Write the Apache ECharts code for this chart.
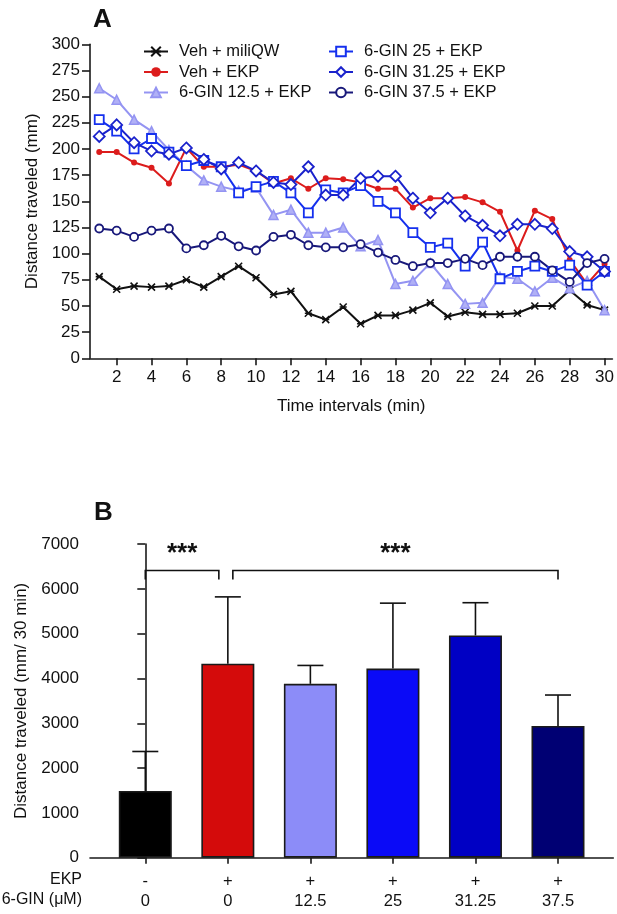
<!DOCTYPE html>
<html>
<head>
<meta charset="utf-8">
<script src="https://cdn.jsdelivr.net/npm/echarts@6/dist/echarts.min.js"></script>
<style>
  html, body { margin: 0; padding: 0; background: #fff; }
  #main { width: 617px; height: 914px; }
</style>
</head>
<body>
<div id="main"></div>
<script>
// ---- panel A: distance per 1-min interval ----
var minutes = [1,2,3,4,5,6,7,8,9,10,11,12,13,14,15,16,17,18,19,20,21,22,23,24,25,26,27,28,29,30];
var xTicksA = [2,4,6,8,10,12,14,16,18,20,22,24,26,28,30];

var vehMiliQW = [78,66,69,68,69,75,68,78,88,77,61,64,43,37,49,33,41,41,46,53,40,44,42,42,43,50,50,65,51,46];
var vehEKP    = [197,197,187,182,167,201,183,183,185,179,167,172,162,172,171,168,162,162,144,153,153,154,149,140,103,141,133,94,71,90];
var gin12_5   = [258,247,228,217,199,184,170,164,160,163,137,142,120,120,125,107,113,71,74,91,71,52,53,78,76,64,77,67,74,46];
var gin25     = [228,217,200,210,197,184,189,183,158,164,169,158,139,161,158,165,150,139,120,106,110,88,111,76,83,88,83,89,70,83];
var gin31_25  = [212,223,206,198,195,201,190,181,187,179,168,166,183,156,156,172,174,174,153,139,153,136,127,117,128,128,124,102,97,83];
var gin37_5   = [124,122,116,122,124,105,108,117,107,103,116,118,108,106,106,109,101,94,88,91,91,95,89,97,97,97,84,73,91,95];

// ---- panel B: total distance in 30 min ----
var ekpRow  = ['-','+','+','+','+','+'];
var ginRow  = ['0','0','12.5','25','31.25','37.5'];
var totals  = [1490,4330,3880,4220,4960,2940];
var totalSD = [880,1490,410,1460,730,690];
var comparisons = [[0,1],[1,5]];
var compLabels  = ['***','***'];

var barColors = ['#000000','#d40b0b','#8c8cf8','#0a0af7','#0000c4','#000073'];
var FONT = 'Liberation Sans, Arial, sans-serif';

function pairs(xs, ys) {
  return ys.map(function (v, i) { return [xs[i], v]; });
}

var crossPath = 'path://M0,0L10,10M10,0L0,10M0,5L10,5';

var axisLineStyle = { color: '#1a1a1a', width: 1.6 };

var option = {
  animation: false,
  textStyle: { fontFamily: FONT },
  title: [
    { text: 'A', left: 88, top: 2, textStyle: { fontSize: 26, fontWeight: 'bold', color: '#111', fontFamily: FONT } },
    { text: 'B', left: 89, top: 495, textStyle: { fontSize: 26, fontWeight: 'bold', color: '#111', fontFamily: FONT } }
  ],
  legend: [
    {
      left: 143, top: 43, padding: 0, orient: 'vertical', itemWidth: 24, itemHeight: 12, itemGap: 3.5,
      textStyle: { fontSize: 16.5, color: '#111', padding: [0,0,0,6] },
      data: ['Veh + miliQW', 'Veh + EKP', '6-GIN 12.5 + EKP']
    },
    {
      left: 328, top: 43, padding: 0, orient: 'vertical', itemWidth: 24, itemHeight: 12, itemGap: 3.5,
      textStyle: { fontSize: 16.5, color: '#111', padding: [0,0,0,6] },
      data: ['6-GIN 25 + EKP', '6-GIN 31.25 + EKP', '6-GIN 37.5 + EKP']
    }
  ],
  grid: [
    { left: 90, top: 44.3, width: 523, height: 314 },
    { left: 90, top: 544, width: 523.3, height: 313.7 }
  ],
  xAxis: [
    {
      gridIndex: 0, type: 'value', min: 0.47, max: 30.45,
      name: 'Time intervals (min)', nameLocation: 'middle', nameGap: 40,
      nameTextStyle: { fontSize: 17, color: '#111' },
      axisLine: { lineStyle: axisLineStyle },
      axisTick: { length: 7, lineStyle: axisLineStyle, customValues: xTicksA },
      axisLabel: { fontSize: 17, color: '#111', margin: 11, customValues: xTicksA },
      splitLine: { show: false }
    },
    {
      gridIndex: 1, type: 'value', min: -0.67, max: 5.67,
      axisLine: { lineStyle: axisLineStyle },
      axisTick: { length: 6, lineStyle: axisLineStyle, customValues: [0,1,2,3,4,5] },
      axisLabel: {
        fontSize: 16.5, color: '#111', margin: 14, lineHeight: 20,
        customValues: [0,1,2,3,4,5],
        formatter: function (v) { return ekpRow[v] + '\n' + ginRow[v]; }
      },
      splitLine: { show: false }
    }
  ],
  yAxis: [
    {
      gridIndex: 0, type: 'value', min: 0, max: 300, interval: 25,
      name: 'Distance traveled (mm)', nameLocation: 'middle', nameGap: 47,
      nameTextStyle: { fontSize: 17, color: '#111' },
      axisLine: { show: true, lineStyle: axisLineStyle },
      axisTick: { show: true, length: 8, lineStyle: axisLineStyle },
      axisLabel: { fontSize: 17, color: '#111', margin: 10 },
      splitLine: { show: false }
    },
    {
      gridIndex: 1, type: 'value', min: 0, max: 7000, interval: 1000,
      name: 'Distance traveled (mm/ 30 min)', nameLocation: 'middle', nameGap: 57,
      nameTextStyle: { fontSize: 17, color: '#111' },
      axisLine: { show: true, lineStyle: axisLineStyle },
      axisTick: { show: true, length: 8, lineStyle: axisLineStyle },
      axisLabel: { fontSize: 17, color: '#111', margin: 11, formatter: function (v) { return String(v); } },
      splitLine: { show: false }
    }
  ],
  graphic: [
    { type: 'text', right: 617 - 82, top: 872, style: { text: 'EKP', fontSize: 16, fill: '#111', fontFamily: FONT, textAlign: 'right' } },
    { type: 'text', right: 617 - 82, top: 892, style: { text: '6-GIN (\u03BCM)', fontSize: 16, fill: '#111', fontFamily: FONT, textAlign: 'right' } }
  ],
  series: [
    {
      name: 'Veh + miliQW', type: 'line', xAxisIndex: 0, yAxisIndex: 0,
      data: pairs(minutes, vehMiliQW), symbol: crossPath, symbolSize: 7,
      lineStyle: { color: '#111', width: 2 },
      itemStyle: { color: '#111', borderColor: '#111', borderWidth: 1.6 }, z: 3
    },
    {
      name: 'Veh + EKP', type: 'line', xAxisIndex: 0, yAxisIndex: 0,
      data: pairs(minutes, vehEKP), symbol: 'circle', symbolSize: 6,
      lineStyle: { color: '#dc1c1c', width: 2 },
      itemStyle: { color: '#dc1c1c' }, z: 3
    },
    {
      name: '6-GIN 12.5 + EKP', type: 'line', xAxisIndex: 0, yAxisIndex: 0,
      data: pairs(minutes, gin12_5), symbol: 'triangle', symbolSize: 9,
      lineStyle: { color: '#9494f2', width: 2 },
      itemStyle: { color: '#b0b0f6', borderColor: '#9494f2', borderWidth: 1.5 }, z: 3
    },
    {
      name: '6-GIN 25 + EKP', type: 'line', xAxisIndex: 0, yAxisIndex: 0,
      data: pairs(minutes, gin25), symbol: 'rect', symbolSize: 9,
      lineStyle: { color: '#1530ee', width: 2 },
      itemStyle: { color: '#ffffff', borderColor: '#1530ee', borderWidth: 1.8 }, z: 4
    },
    {
      name: '6-GIN 31.25 + EKP', type: 'line', xAxisIndex: 0, yAxisIndex: 0,
      data: pairs(minutes, gin31_25), symbol: 'diamond', symbolSize: 11,
      lineStyle: { color: '#1a22cc', width: 2 },
      itemStyle: { color: '#ffffff', borderColor: '#1a22cc', borderWidth: 1.8 }, z: 4
    },
    {
      name: '6-GIN 37.5 + EKP', type: 'line', xAxisIndex: 0, yAxisIndex: 0,
      data: pairs(minutes, gin37_5), symbol: 'circle', symbolSize: 8,
      lineStyle: { color: '#18187a', width: 2 },
      itemStyle: { color: '#ffffff', borderColor: '#18187a', borderWidth: 1.8 }, z: 4
    },
    {
      name: 'totals', type: 'bar', xAxisIndex: 1, yAxisIndex: 1, barWidth: 53,
      data: totals.map(function (v, i) {
        return { value: [i, v], itemStyle: { color: barColors[i], borderColor: '#1a1a1a', borderWidth: 1.6 } };
      }),
      z: 2
    },
    {
      name: 'sd', type: 'custom', xAxisIndex: 1, yAxisIndex: 1,
      data: totals.map(function (v, i) { return [i, v, totalSD[i]]; }),
      renderItem: function (params, api) {
        var x = api.value(0), m = api.value(1), s = api.value(2);
        var base = api.coord([x, m]);
        var top = api.coord([x, m + s]);
        var st = { stroke: '#111', lineWidth: 1.6 };
        return {
          type: 'group',
          children: [
            { type: 'line', shape: { x1: base[0], y1: base[1], x2: top[0], y2: top[1] }, style: st },
            { type: 'line', shape: { x1: top[0] - 13, y1: top[1], x2: top[0] + 13, y2: top[1] }, style: st }
          ]
        };
      },
      z: 3
    },
    {
      name: 'sig', type: 'custom', xAxisIndex: 1, yAxisIndex: 1,
      data: comparisons,
      renderItem: function (params, api) {
        var from = api.value(0), to = api.value(1);
        var sharedFrom = comparisons.some(function (c) { return c[1] === from; });
        var sharedTo = comparisons.some(function (c) { return c[0] === to; });
        var p1 = api.coord([from, 6410]);
        var p2 = api.coord([to, 6410]);
        var x1 = p1[0] + (sharedFrom ? 5 : 0);
        var x2 = p2[0] - (sharedTo ? 9 : 0);
        var y = p1[1];
        var st = { stroke: '#111', lineWidth: 1.6, fill: null };
        return {
          type: 'group',
          children: [
            { type: 'polyline', shape: { points: [[x1, y + 9], [x1, y], [x2, y], [x2, y + 9]] }, style: st },
            { type: 'text', style: { text: compLabels[params.dataIndex], x: (x1 + x2) / 2, y: y - 4, textAlign: 'center', textVerticalAlign: 'bottom', fontSize: 26, fontWeight: 'bold', fill: '#111', fontFamily: FONT } }
          ]
        };
      },
      z: 3
    }
  ]
};

var myChart = echarts.init(document.getElementById('main'));
myChart.setOption(option);
</script>
</body>
</html>
